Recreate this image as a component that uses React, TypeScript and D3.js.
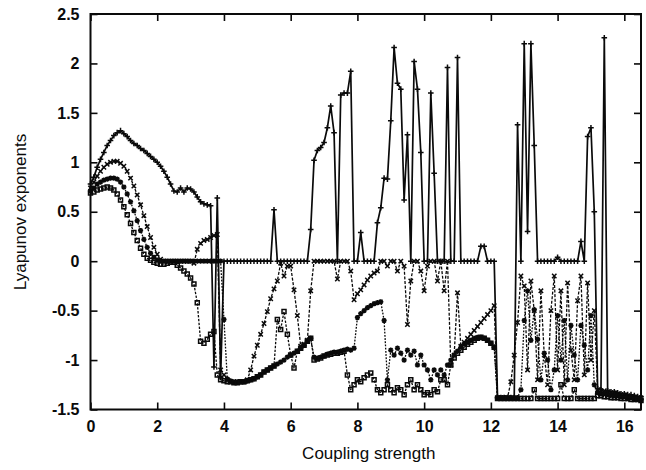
import React, { useEffect, useRef } from 'react';
import * as d3 from 'd3';

// coupling strength grid, step 0.1 from 0 to 16.5
const couplingStrength = d3.range(0, 166).map(i => +(i * 0.1).toFixed(1));

const lyap1 = [
  0.78, 0.85, 0.95, 1.03, 1.10, 1.17, 1.22, 1.27, 1.30, 1.32,
  1.29, 1.26, 1.22, 1.19, 1.17, 1.14, 1.12, 1.09, 1.06, 1.03,
  1.00, 0.96, 0.91, 0.85, 0.78, 0.71, 0.70, 0.74, 0.70, 0.74,
  0.73, 0.70, 0.65, 0.60, 0.58, 0.57, 0.56, -1.07, 0.64, -1.17,
  0, 0, 0, 0, 0, 0, 0, 0, 0, 0,
  0, 0, 0, 0, 0, 0.52, 0, 0, 0, 0,
  0, 0, 0, 0, 0, 0, 0.32, 1.02, 1.12, 1.15,
  1.20, 1.35, 1.57, 1.30, 0, 1.68, 1.70, 1.70, 1.92, 0,
  0, 0.29, 0, 0, 0, 0, 0.39, 0.54, 0.84, 0.83,
  1.42, 2.16, 1.80, 1.74, 0.62, 1.28, 0, 2.02, 1.74, 1.10,
  0, 0, 1.70, 0.89, 0, 0, 0, 1.96, 0, 0,
  2.06, 0, 0, 0, 0, 0, 0, 0.15, 0.15, 0,
  0, 0, -1.38, -1.38, -1.38, -1.38, -1.38, -1.38, 1.38, 0,
  2.20, 0.30, 2.20, 1.17, 0, 0, 0, 0, 0, 0,
  0.04, 0, 0, 0, 0, 0, 0, 0.20, 0, 1.26,
  1.35, 0.50, -1.29, -1.30, 2.26, -1.31, -1.32, -1.32, -1.33, -1.34,
  -1.34, -1.35, -1.35, -1.36, -1.37, -1.37,
];

const lyap2 = [
  0.74, 0.80, 0.86, 0.91, 0.95, 0.98, 1.00, 1.01, 1.01, 0.99,
  0.96, 0.91, 0.84, 0.76, 0.67, 0.57, 0.46, 0.35, 0.24, 0.14,
  0.07, 0.02, 0, 0, 0, 0, 0, 0, 0, 0,
  0, -0.02, 0.12, 0.18, 0.21, 0.22, 0.24, 0.26, 0.27, -1.10,
  -1.15, -1.20, -1.22, -1.22, -1.22, -1.22, -1.22, -1.20, -1.10, -0.96,
  -0.85, -0.74, -0.63, -0.51, -0.38, -0.28, -0.20, -0.02, -0.15, -0.05,
  -0.05, -0.29, -0.55, -0.86, -0.84, -0.80, -0.30, 0, 0, 0,
  0, 0, 0, 0, -0.18, 0, 0, 0, -0.10, -0.39,
  -0.33, -0.29, -0.24, -0.19, -0.15, -0.12, -0.10, 0, 0, -0.05,
  0, 0, -0.10, 0, -0.05, -0.64, -0.20, 0, 0, -0.10,
  -0.30, -0.05, 0, 0, -0.20, 0, -0.30, 0, -1.05, -0.95,
  -0.32, -0.86, -0.82, -0.78, -0.74, -0.70, -0.66, -0.62, -0.58, -0.54,
  -0.50, -0.45, -1.38, -1.38, -1.38, -1.38, -1.22, -0.95, -0.62, -0.15,
  -0.25, -1.10, -0.20, -0.50, -1.20, -0.30, -0.95, -1.25, -0.50, -0.15,
  -1.10, -0.30, -1.25, -0.22, -0.90, -1.20, -0.40, -0.15, -1.15, -0.22,
  -1.00, -0.50, -1.30, -1.31, -1.31, -1.32, -1.33, -1.33, -1.34, -1.35,
  -1.35, -1.36, -1.37, -1.37, -1.38, -1.38,
];

const lyap3 = [
  0.71, 0.74, 0.78, 0.80, 0.82, 0.83, 0.84, 0.84, 0.83, 0.80,
  0.75, 0.68, 0.60, 0.51, 0.41, 0.31, 0.22, 0.14, 0.08, 0.04,
  0.01, 0, 0, 0, 0, 0, 0, 0, 0, 0,
  0, 0, 0, 0, 0, 0, 0, 0, 0, 0,
  -0.59, -1.19, -1.21, -1.22, -1.22, -1.22, -1.22, -1.21, -1.20, -1.19,
  -1.17, -1.15, -1.12, -1.10, -1.08, -1.06, -1.04, -1.02, -1.00, -0.97,
  -0.95, -0.93, -0.91, -0.88, -0.85, -0.81, -0.78, -0.97, -0.98, -0.97,
  -0.96, -0.94, -0.93, -0.92, -0.92, -0.91, -0.90, -0.89, -0.90, -0.88,
  -0.57, -0.53, -0.50, -0.47, -0.45, -0.43, -0.42, -0.41, -0.60, -1.20,
  -0.90, -0.95, -0.88, -0.93, -1.00, -0.90, -0.95, -0.91, -1.05, -0.95,
  -1.05, -1.10, -1.20, -1.10, -1.15, -1.10, -1.15, -1.05, -1.00, -0.95,
  -0.91, -0.87, -0.84, -0.82, -0.80, -0.78, -0.77, -0.77, -0.78, -0.80,
  -0.83, -0.87, -1.38, -1.38, -1.38, -1.38, -1.38, -1.38, -1.38, -1.30,
  -0.60, -0.30, -0.80, -0.49, -0.79, -1.20, -0.93, -1.00, -1.30, -1.10,
  -0.55, -1.00, -0.60, -1.20, -0.65, -0.95, -1.20, -0.65, -0.85, -1.10,
  -0.55, -1.25, -1.33, -1.34, -1.34, -1.35, -1.35, -1.36, -1.36, -1.37,
  -1.37, -1.38, -1.38, -1.39, -1.39, -1.40,
];

const lyap4 = [
  0.69, 0.70, 0.72, 0.73, 0.74, 0.75, 0.74, 0.72, 0.68, 0.62,
  0.55, 0.47, 0.38, 0.29, 0.21, 0.13, 0.07, 0.03, 0.01, -0.01,
  -0.02, -0.03, -0.03, -0.02, -0.01, -0.01, -0.04, -0.07, -0.10, -0.13,
  -0.17, -0.23, -0.42, -0.81, -0.83, -0.79, -0.74, -0.71, -1.15, -1.20,
  -1.21, -1.22, -1.22, -1.23, -1.23, -1.22, -1.22, -1.21, -1.20, -1.19,
  -1.17, -1.15, -1.12, -1.10, -1.08, -1.06, -0.59, -0.69, -0.51, -0.74,
  -0.95, -1.08, -0.91, -0.88, -0.85, -0.81, -0.78, -1.00, -0.99, -0.98,
  -0.96, -0.95, -0.94, -0.93, -0.93, -0.92, -0.91, -1.15, -1.30, -1.25,
  -1.20, -1.22, -1.18, -1.15, -1.13, -1.20, -1.30, -1.33, -1.30, -1.25,
  -1.30, -1.33, -1.28, -1.30, -1.35, -1.25, -1.20, -1.30, -1.25, -1.30,
  -1.35, -1.33, -1.35, -1.30, -1.32, -1.20, -1.20, -1.25, -1.05, -0.98,
  -0.93, -0.90, -0.87, -0.84, -0.82, -0.80, -0.78, -0.77, -0.78, -0.80,
  -0.83, -0.87, -1.39, -1.39, -1.39, -1.39, -1.39, -1.39, -1.39, -1.39,
  -1.39, -1.39, -1.39, -1.30, -1.39, -1.39, -1.39, -1.39, -1.39, -1.39,
  -1.39, -1.25, -1.39, -1.39, -1.39, -1.30, -1.39, -1.39, -1.39, -1.39,
  -1.39, -1.39, -1.36, -1.36, -1.37, -1.37, -1.38, -1.38, -1.38, -1.39,
  -1.39, -1.39, -1.40, -1.40, -1.40, -1.41,
];

const xTicks = [0, 2, 4, 6, 8, 10, 12, 14, 16];
const yTicks = [-1.5, -1, -0.5, 0, 0.5, 1, 1.5, 2, 2.5];
const yTickLabels = ['-1.5', '-1', '-0.5', '0', '0.5', '1', '1.5', '2', '2.5'];

const markerPaths = {
  plus: 'M-2.8,0H2.8M0,-2.8V2.8',
  cross: 'M-2.2,-2.2L2.2,2.2M-2.2,2.2L2.2,-2.2',
  star: 'M-2.6,0H2.6M0,-2.6V2.6M-1.9,-1.9L1.9,1.9M-1.9,1.9L1.9,-1.9',
  square: 'M-2,-2H2V2H-2Z',
};

const seriesList = [
  { values: lyap1, dash: null, width: 1.7, marker: 'plus' },
  { values: lyap2, dash: '3,1.6', width: 1.3, marker: 'cross' },
  { values: lyap3, dash: '1.8,1.4', width: 1.3, marker: 'star' },
  { values: lyap4, dash: '2.4,1.5', width: 1.3, marker: 'square' },
];

const App = () => {
  const svgRef = useRef(null);

  useEffect(() => {
    const svg = d3.select(svgRef.current);
    svg.selectAll('*').remove();

    const left = 90.5, right = 641, top = 14, bottom = 409.5;

    const x = d3.scaleLinear().domain([0, 16.5]).range([left, right]);
    const y = d3.scaleLinear().domain([-1.5, 2.5]).range([bottom, top]);

    const font = '"Liberation Sans", Arial, Helvetica, sans-serif';

    // series lines + markers
    seriesList.forEach(s => {
      const pts = couplingStrength.map((c, i) => [c, s.values[i]]);
      const line = d3.line()
        .x(d => x(d[0]))
        .y(d => y(d[1]));

      svg.append('path')
        .datum(pts)
        .attr('d', line)
        .attr('fill', 'none')
        .attr('stroke', '#0a0a0a')
        .attr('stroke-width', s.width)
        .attr('stroke-dasharray', s.dash)
        .attr('stroke-linejoin', 'round');

      svg.append('g')
        .selectAll('path')
        .data(pts)
        .enter()
        .append('path')
        .attr('d', markerPaths[s.marker])
        .attr('transform', d => `translate(${x(d[0])},${y(d[1])})`)
        .attr('fill', 'none')
        .attr('stroke', '#0a0a0a')
        .attr('stroke-width', 1.5);
    });

    // axes, ticks pointing inward on all four sides
    const axisStyle = (g) => {
      g.select('.domain').remove();
      g.selectAll('line').attr('stroke', '#0a0a0a').attr('stroke-width', 1.6);
      g.selectAll('text')
        .style('font-family', font)
        .style('font-size', '16px')
        .style('font-weight', 'bold')
        .attr('fill', '#0a0a0a');
    };

    svg.append('g')
      .attr('transform', `translate(0,${bottom})`)
      .call(d3.axisBottom(x).tickValues(xTicks).tickSize(-7).tickPadding(11).tickFormat(d3.format('d')))
      .call(axisStyle);

    svg.append('g')
      .attr('transform', `translate(0,${top})`)
      .call(d3.axisTop(x).tickValues(xTicks).tickSize(-7).tickFormat(() => ''))
      .call(axisStyle);

    svg.append('g')
      .attr('transform', `translate(${left},0)`)
      .call(d3.axisLeft(y).tickValues(yTicks).tickSize(-7).tickPadding(11)
        .tickFormat((d, i) => yTickLabels[i]))
      .call(axisStyle);

    svg.append('g')
      .attr('transform', `translate(${right},0)`)
      .call(d3.axisRight(y).tickValues(yTicks).tickSize(-7).tickFormat(() => ''))
      .call(axisStyle);

    // frame
    svg.append('rect')
      .attr('x', left)
      .attr('y', top)
      .attr('width', right - left)
      .attr('height', bottom - top)
      .attr('fill', 'none')
      .attr('stroke', '#0a0a0a')
      .attr('stroke-width', 2);

    // axis titles
    svg.append('text')
      .attr('x', (left + right) / 2 + 3)
      .attr('y', 459)
      .attr('text-anchor', 'middle')
      .style('font-family', font)
      .style('font-size', '17px')
      .attr('fill', '#0a0a0a')
      .text('Coupling strength');

    svg.append('text')
      .attr('transform', 'translate(26,212) rotate(-90)')
      .attr('text-anchor', 'middle')
      .style('font-family', font)
      .style('font-size', '17px')
      .attr('fill', '#0a0a0a')
      .text('Lyapunov exponents');
  }, []);

  return (
    <svg
      ref={svgRef}
      width={646}
      height={470}
      style={{ position: 'absolute', left: 0, top: 0, background: '#fff' }}
    />
  );
};

export default App;
